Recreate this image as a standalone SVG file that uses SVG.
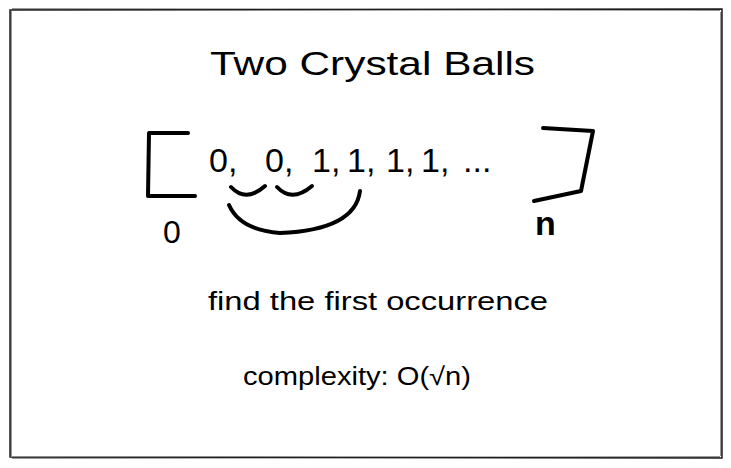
<svg xmlns="http://www.w3.org/2000/svg" width="731" height="468" viewBox="0 0 731 468">
<style>
.t{font-family:"Liberation Sans",Arial,sans-serif;fill:#000}
.s{fill:none;stroke:#000;stroke-width:4;stroke-linecap:round;stroke-linejoin:round}
.b{fill:none;stroke:#1e1e1e;stroke-width:1.5}
</style>
<rect width="731" height="468" fill="#fff"/>
<g id="frame">
<path class="b" d="M10 10 L722 9 L722 458 L10 457 Z"/>
<path class="b" d="M12 9 L720 10 M11 11 L11 456 M721 12 L721 456 M12 458 L720 457" stroke-opacity="0.6"/>
</g>
<g id="title"><text class="t" x="210" y="75" font-size="34" textLength="325" lengthAdjust="spacingAndGlyphs">Two Crystal Balls</text></g>
<g id="array"><text class="t" y="172" font-size="34"><tspan x="209">0,</tspan><tspan x="265">0,</tspan><tspan x="312">1,</tspan><tspan x="347">1,</tspan><tspan x="386">1,</tspan><tspan x="421">1,</tspan><tspan x="463">...</tspan></text></g>
<g id="bracket-left"><path class="s" d="M188 133 L149 133 L148 196 L195 196"/></g>
<g id="bracket-right"><path class="s" d="M543 128 L593 131 L581 191 L534 201"/></g>
<g id="label-0"><text class="t" x="163" y="243" font-size="32">0</text></g>
<g id="label-n"><text class="t" x="535" y="235" font-size="34" font-weight="bold">n</text></g>
<g id="connectors">
<path class="s" d="M231 187 Q246 203 265 186"/>
<path class="s" d="M277 187 Q292 203 312 186"/>
<path class="s" d="M229 205 Q240 230 280 233 Q355 230 360 191"/>
</g>
<g id="find"><text class="t" x="208" y="310" font-size="25" textLength="340" lengthAdjust="spacingAndGlyphs">find the first occurrence</text></g>
<g id="complexity"><text class="t" x="243" y="385" font-size="25" textLength="228" lengthAdjust="spacingAndGlyphs">complexity: O(√n)</text></g>
</svg>
